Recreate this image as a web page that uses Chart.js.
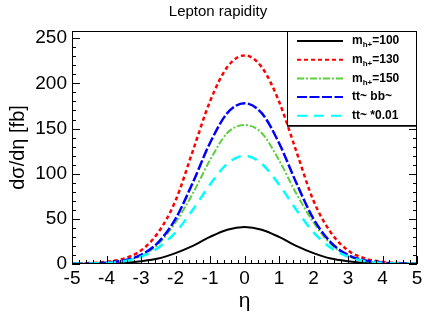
<!DOCTYPE html>
<html>
<head>
<meta charset="utf-8">
<script src="https://cdn.jsdelivr.net/npm/chart.js@4"></script>
<style>
  html, body { margin: 0; padding: 0; background: #fff; }
  #wrap { width: 436px; height: 315px; }
</style>
</head>
<body>
<div id="wrap"><canvas id="rap" width="436" height="315"></canvas></div>
<script>
// eta bin centres
const eta = [-5, -4.5, -4, -3.5, -3, -2.5, -2, -1.5, -1, -0.5, 0, 0.5, 1, 1.5, 2, 2.5, 3, 3.5, 4, 4.5, 5];

// dsigma/deta [fb]
const mh100 = [0.1, 0.2, 0.5, 1.2, 3, 6, 12, 20, 30, 38, 41, 38, 30, 20, 12, 6, 3, 1.2, 0.5, 0.2, 0.1];
const mh130 = [0.3, 1, 2.5, 6, 15, 35, 70, 125, 180, 218, 231, 218, 180, 125, 70, 35, 15, 6, 2.5, 1, 0.3];
const mh150 = [0.2, 0.5, 1.3, 3.5, 9, 22, 46, 78, 115, 145, 154, 145, 115, 78, 46, 22, 9, 3.5, 1.3, 0.5, 0.2];
const ttbb  = [0.2, 0.5, 1.5, 4, 10, 24, 50, 90, 134, 167, 178, 167, 134, 90, 50, 24, 10, 4, 1.5, 0.5, 0.2];
const tt    = [0.2, 0.5, 1.2, 3, 8, 18, 35, 60, 88, 111, 120, 111, 88, 60, 35, 18, 8, 3, 1.2, 0.5, 0.2];

const xTicks = [-5, -4, -3, -2, -1, 0, 1, 2, 3, 4, 5];
const yTicks = [0, 50, 100, 150, 200, 250];

// legend text: main, subscript, rest
const legendText = [
  ['m', 'h+', '=100'],
  ['m', 'h+', '=130'],
  ['m', 'h+', '=150'],
  ['tt~ bb~', '', ''],
  ['tt~ *0.01', '', '']
];

const FONT = '"Liberation Sans", Arial, sans-serif';

const pts = (ys) => eta.map((x, i) => ({x: x, y: ys[i]}));

const mkSet = (label, ys, color, dash, width, order) => ({
  label: label,
  data: pts(ys),
  borderColor: color,
  backgroundColor: color,
  borderWidth: width,
  borderDash: dash,
  pointRadius: 0,
  fill: false,
  cubicInterpolationMode: 'monotone',
  order: order
});

const datasets = [
  mkSet('mh100', mh100, '#000000', [], 2, 5),
  mkSet('mh130', mh130, '#ff0000', [4, 3], 2.5, 4),
  mkSet('mh150', mh150, '#5ccf3c', [7, 2, 2, 2], 2, 3),
  mkSet('ttbb', ttbb, '#0000ff', [10, 2.5], 2.5, 2),
  mkSet('tt', tt, '#00ffff', [10, 7], 2.5, 1)
];

// frame + ROOT style ticks pointing inward
const frameTicks = {
  id: 'frameTicks',
  afterDatasetsDraw(chart) {
    const {ctx, chartArea: a, scales: {x, y}} = chart;
    ctx.save();
    ctx.strokeStyle = '#000';
    ctx.lineWidth = 1;
    ctx.strokeRect(a.left + 0.5, a.top + 0.5, a.right - a.left - 1, a.bottom - a.top - 1);
    ctx.beginPath();
    for (let v = 0; v <= y.max; v += 10) {
      const py = Math.round(y.getPixelForValue(v)) + 0.5;
      const len = v % 50 === 0 ? 8 : 4;
      ctx.moveTo(a.left, py); ctx.lineTo(a.left + len, py);
      ctx.moveTo(a.right, py); ctx.lineTo(a.right - len, py);
    }
    for (let i = -50; i <= 50; i += 2) {
      const px = Math.round(x.getPixelForValue(i / 10)) + 0.5;
      const len = i % 10 === 0 ? 8 : 4;
      ctx.moveTo(px, a.bottom); ctx.lineTo(px, a.bottom - len);
    }
    ctx.stroke();
    ctx.restore();
  }
};

// legend box with subscripts
const rootLegend = {
  id: 'rootLegend',
  afterDraw(chart) {
    const ctx = chart.ctx;
    const bx = 287, by = chart.chartArea.top, bw = chart.chartArea.right - 287, bh = 95;
    ctx.save();
    ctx.fillStyle = '#fff';
    ctx.fillRect(bx, by, bw, bh);
    ctx.strokeStyle = '#000';
    ctx.lineWidth = 1;
    ctx.strokeRect(bx + 0.5, by + 0.5, bw - 1, bh - 1);
    ctx.lineWidth = 1.5;
    ctx.beginPath();
    ctx.moveTo(bx, by + bh); ctx.lineTo(bx + bw, by + bh);
    ctx.stroke();
    datasets.forEach((ds, i) => {
      const ry = by + 10 + i * 18.7;
      ctx.strokeStyle = ds.borderColor;
      ctx.lineWidth = 2;
      ctx.setLineDash(ds.borderDash);
      ctx.beginPath();
      ctx.moveTo(297, ry); ctx.lineTo(343, ry);
      ctx.stroke();
      ctx.setLineDash([]);
      const [main, sub, rest] = legendText[i];
      ctx.fillStyle = '#000';
      ctx.textBaseline = 'middle';
      ctx.font = 'bold 12px ' + FONT;
      let tx = 352;
      ctx.fillText(main, tx, ry);
      tx += ctx.measureText(main).width;
      if (sub) {
        ctx.font = 'bold 8px ' + FONT;
        ctx.fillText(sub, tx, ry + 4);
        tx += ctx.measureText(sub).width;
        ctx.font = 'bold 12px ' + FONT;
        ctx.fillText(rest, tx, ry);
      }
    });
    ctx.restore();
  }
};

new Chart(document.getElementById('rap'), {
  type: 'line',
  data: { datasets: datasets },
  options: {
    responsive: false,
    animation: false,
    layout: { padding: 0 },
    plugins: {
      legend: { display: false },
      tooltip: { enabled: false },
      title: {
        display: true,
        text: 'Lepton rapidity',
        color: '#000',
        font: { family: FONT, size: 15, weight: 'normal' },
        padding: { top: 3, bottom: 10 }
      }
    },
    scales: {
      x: {
        type: 'linear',
        min: -5,
        max: 5,
        afterBuildTicks: (s) => { s.ticks = xTicks.map(v => ({value: v})); },
        afterFit: (s) => { s.height = 51; },
        grid: { display: false, drawTicks: false },
        border: { display: false },
        ticks: {
          color: '#000',
          padding: 3,
          maxRotation: 0,
          autoSkip: false,
          font: { family: FONT, size: 19 },
          callback: (v) => String(v)
        },
        title: {
          display: true,
          text: 'η',
          color: '#000',
          font: { family: FONT, size: 21 },
          padding: { top: 0, bottom: 1 }
        }
      },
      y: {
        min: 0,
        max: 258,
        afterBuildTicks: (s) => { s.ticks = yTicks.map(v => ({value: v})); },
        afterFit: (s) => { s.width = 72; },
        grid: { display: false, drawTicks: false },
        border: { display: false },
        ticks: {
          color: '#000',
          padding: 5,
          autoSkip: false,
          font: { family: FONT, size: 19 },
          callback: (v) => String(v)
        },
        title: {
          display: true,
          text: 'dσ/dη [fb]',
          color: '#000',
          font: { family: FONT, size: 20 },
          padding: { top: 6, bottom: 0 }
        }
      },
      // empty right axis, only keeps the right margin
      yRight: {
        position: 'right',
        min: 0,
        max: 258,
        afterFit: (s) => { s.width = 19; },
        grid: { display: false, drawTicks: false },
        border: { display: false },
        ticks: { display: false }
      }
    }
  },
  plugins: [frameTicks, rootLegend]
});
</script>
</body>
</html>
